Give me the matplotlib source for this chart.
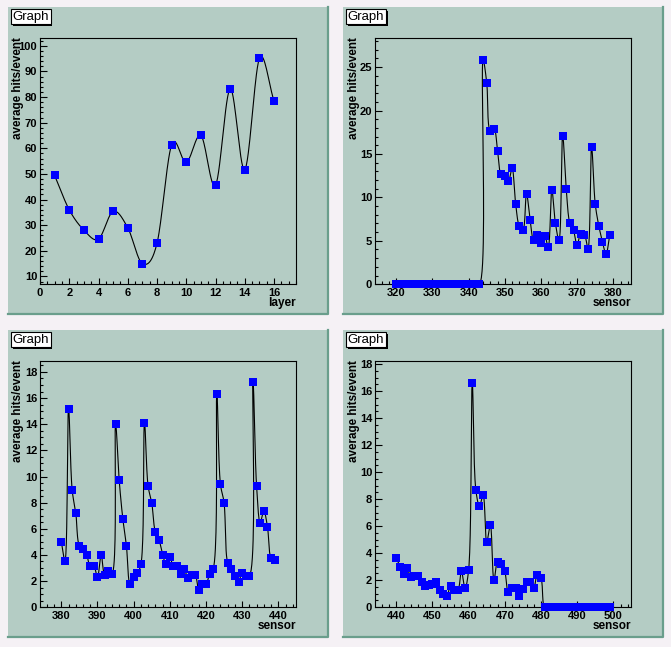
import numpy as np
import matplotlib
matplotlib.use("Agg")
import matplotlib.pyplot as plt
from matplotlib.patches import Rectangle
from matplotlib.lines import Line2D
from matplotlib.ticker import MultipleLocator, FormatStrFormatter

# ---- data ----
layers = list(range(1, 17))
layer_hits = [49.4, 36.0, 28.1, 24.6, 35.4, 29.0, 15.0, 23.0,
              61.4, 54.5, 65.0, 45.6, 83.2, 51.7, 95.1, 78.4]

sensors_a = list(range(320, 380))
hits_a = [0, 0, 0, 0, 0, 0, 0, 0, 0, 0, 0, 0,
          0, 0, 0, 0, 0, 0, 0, 0, 0, 0, 0, 0,
          25.8, 23.2, 17.7, 17.9, 15.3, 12.65, 12.5, 11.85, 13.4, 9.27,
          6.7, 6.2, 10.4, 7.4, 5.05, 5.7, 4.7, 5.6, 4.33, 10.85,
          7.0, 5.05, 17.1, 10.95, 7.0, 6.2, 4.48, 5.8, 5.7, 4.1,
          15.75, 9.27, 6.72, 4.9, 3.46, 5.62]

sensors_b = list(range(380, 440))
hits_b = [5.0, 3.55, 15.2, 8.96, 7.2, 4.7, 4.47, 4.03, 3.12, 3.12,
          2.28, 4.03, 2.49, 2.8, 2.56, 14.0, 9.72, 6.78, 4.7, 1.8,
          2.33, 2.6, 3.27, 14.1, 9.26, 8.0, 5.74, 5.18, 4.03, 3.27,
          3.86, 3.12, 3.12, 2.56, 2.92, 2.2, 2.46, 2.49, 1.32, 1.75,
          1.75, 2.56, 2.94, 16.3, 9.42, 8.0, 3.4, 2.9, 2.39, 1.93,
          2.64, 2.39, 2.39, 17.26, 9.26, 6.47, 7.36, 6.17, 3.78, 3.58]

sensors_c = list(range(440, 500))
hits_c = [3.67, 3.01, 2.45, 2.87, 2.2, 2.33, 2.33, 1.89, 1.54, 1.64,
          1.71, 1.84, 1.27, 0.98, 0.86, 1.59, 1.27, 1.27, 2.65, 1.4,
          2.77, 16.58, 8.65, 7.49, 8.28, 4.82, 6.07, 1.98, 3.31, 3.21,
          2.65, 1.1, 1.4, 1.44, 0.83, 1.32, 1.86, 1.89, 1.4, 2.42,
          2.13, 0, 0, 0, 0, 0, 0, 0, 0, 0,
          0, 0, 0, 0, 0, 0, 0, 0, 0, 0]

# ---- style ----
W, H = 671, 647
BG = "#f5f1f5"
PAD = "#b4ccc4"
BEVEL = "#6a9e8c"
FONT = "Liberation Sans"

fig = plt.figure(figsize=(W / 100, H / 100), dpi=100, facecolor=BG)


def fx(px):
    return px / W


def fy(py):
    return 1 - py / H


def smooth_func(x, y, n=30):
    # cardinal spline y(x) with central-difference slopes
    x = np.asarray(x, float)
    y = np.asarray(y, float)
    m = np.empty_like(y)
    m[1:-1] = (y[2:] - y[:-2]) / (x[2:] - x[:-2])
    m[0] = (y[1] - y[0]) / (x[1] - x[0])
    m[-1] = (y[-1] - y[-2]) / (x[-1] - x[-2])
    xs, ys = [], []
    t = np.linspace(0, 1, n)
    h00 = 2 * t**3 - 3 * t**2 + 1
    h10 = t**3 - 2 * t**2 + t
    h01 = -2 * t**3 + 3 * t**2
    h11 = t**3 - t**2
    for i in range(len(x) - 1):
        h = x[i + 1] - x[i]
        xs.append(x[i] + t * h)
        ys.append(h00 * y[i] + h10 * h * m[i] + h01 * y[i + 1] + h11 * h * m[i + 1])
    return np.concatenate(xs), np.concatenate(ys)


def smooth_pix(x, y, xlim, ylim, wpx, hpx, n=24):
    # centripetal Catmull-Rom in pixel space, keeps dense spikes tight
    sx = wpx / (xlim[1] - xlim[0])
    sy = hpx / (ylim[1] - ylim[0])
    P = np.column_stack([(np.asarray(x, float) - xlim[0]) * sx,
                         (np.asarray(y, float) - ylim[0]) * sy])
    P = np.vstack([2 * P[0] - P[1], P, 2 * P[-1] - P[-2]])
    out = []
    for i in range(1, len(P) - 2):
        p0, p1, p2, p3 = P[i - 1:i + 3]
        t0 = 0.0
        t1 = t0 + np.linalg.norm(p1 - p0) ** 0.5
        t2 = t1 + np.linalg.norm(p2 - p1) ** 0.5
        t3 = t2 + np.linalg.norm(p3 - p2) ** 0.5
        t = np.linspace(t1, t2, n)[:, None]
        a1 = (t1 - t) / (t1 - t0) * p0 + (t - t0) / (t1 - t0) * p1
        a2 = (t2 - t) / (t2 - t1) * p1 + (t - t1) / (t2 - t1) * p2
        a3 = (t3 - t) / (t3 - t2) * p2 + (t - t2) / (t3 - t2) * p3
        b1 = (t2 - t) / (t2 - t0) * a1 + (t - t0) / (t2 - t0) * a2
        b2 = (t3 - t) / (t3 - t1) * a2 + (t - t1) / (t3 - t1) * a3
        out.append((t2 - t) / (t2 - t1) * b1 + (t - t1) / (t2 - t1) * b2)
    C = np.vstack(out)
    return C[:, 0] / sx + xlim[0], C[:, 1] / sy + ylim[0]


def panel(pad, x, y, xlabel, xmaj, xmin_, ymaj, ymin_, dense):
    x0, y0, x1, y1 = pad
    pw, ph = x1 - x0, y1 - y0
    # pad background with dark bevel on the right/bottom
    fig.add_artist(Rectangle((fx(x0), fy(y1)), fx(pw), ph / H,
                             transform=fig.transFigure, facecolor=PAD,
                             edgecolor="none", zorder=-2))
    fig.add_artist(Line2D([fx(x0), fx(x1), fx(x1)], [fy(y1 - 1), fy(y1 - 1), fy(y0)],
                          transform=fig.transFigure, color=BEVEL, lw=1.6, zorder=-1))

    # ROOT-like auto range
    lo, hi = min(x), max(x)
    xr = [lo - 0.1 * (hi - lo), hi + 0.1 * (hi - lo)]
    if xr[0] < 0 <= lo:
        xr[0] = 0
    lo, hi = min(y), max(y)
    yr = [lo - 0.1 * (hi - lo), hi + 0.1 * (hi - lo)]
    if yr[0] < 0 <= lo:
        yr[0] = 0

    fl, fr = x0 + 0.1 * pw, x1 - 0.1 * pw
    ft, fb = y0 + 0.1 * ph, y1 - 0.1 * ph
    ax = fig.add_axes([fx(fl), fy(fb), fx(fr - fl), (fb - ft) / H])
    ax.set_facecolor(PAD)
    ax.set_xlim(xr)
    ax.set_ylim(yr)

    if dense:
        cx, cy = smooth_pix(x, y, xr, yr, fr - fl, fb - ft)
    else:
        cx, cy = smooth_func(x, y)
    ax.plot(cx, cy, color="black", lw=0.8, zorder=2)
    ax.plot(x, y, ls="none", marker="s", ms=5.8, mew=0, color="#0000ff",
            clip_on=False, zorder=3)

    for s in ax.spines.values():
        s.set_linewidth(0.8)
        s.set_color("black")
    ax.xaxis.set_major_locator(MultipleLocator(xmaj))
    ax.xaxis.set_minor_locator(MultipleLocator(xmin_))
    ax.yaxis.set_major_locator(MultipleLocator(ymaj))
    ax.yaxis.set_minor_locator(MultipleLocator(ymin_))
    ax.xaxis.set_major_formatter(FormatStrFormatter("%g"))
    ax.yaxis.set_major_formatter(FormatStrFormatter("%g"))
    ax.tick_params(axis="both", which="both", direction="in", top=False,
                   right=False, width=0.8, color="black")
    ax.tick_params(axis="x", which="major", length=4.3, pad=3)
    ax.tick_params(axis="x", which="minor", length=2.2)
    ax.tick_params(axis="y", which="major", length=5.0, pad=2)
    ax.tick_params(axis="y", which="minor", length=2.5)
    for t in ax.get_xticklabels() + ax.get_yticklabels():
        t.set_fontfamily(FONT)
        t.set_fontweight("bold")
        t.set_fontsize(8)

    # axis titles
    fig.text(fx(x0 + 10.5), fy(ft - 1), "average hits/event", rotation=90,
             ha="center", va="top", fontsize=8.4, fontweight="bold", family=FONT)
    fig.text(fx(fr), fy(fb + 19), xlabel, ha="right", va="center",
             fontsize=8.5, fontweight="bold", family=FONT)

    # "Graph" title box with shadow
    bx0, by0, bw, bh = x0 + 3, y0 + 2, 40, 15
    fig.add_artist(Rectangle((fx(bx0 + 1.5), fy(by0 + bh + 1.5)), fx(bw), bh / H,
                             transform=fig.transFigure, facecolor="black",
                             edgecolor="none", zorder=4))
    fig.add_artist(Rectangle((fx(bx0), fy(by0 + bh)), fx(bw), bh / H,
                             transform=fig.transFigure, facecolor="white",
                             edgecolor="black", lw=0.8, zorder=5))
    fig.text(fx(bx0 + bw / 2), fy(by0 + bh / 2 + 0.5), "Graph", ha="center",
             va="center", fontsize=9.5, family=FONT, zorder=6)
    return ax


pads = [(8, 7, 328, 315), (343, 7, 663, 315),
        (8, 330, 328, 638), (343, 330, 663, 638)]

panel(pads[0], layers, layer_hits, "layer", 2, 0.5, 10, 2, dense=False)
panel(pads[1], sensors_a, hits_a, "sensor", 10, 2, 5, 1, dense=True)
panel(pads[2], sensors_b, hits_b, "sensor", 10, 2, 2, 0.5, dense=True)
panel(pads[3], sensors_c, hits_c, "sensor", 10, 2, 2, 0.5, dense=True)

fig.savefig("out.png", dpi=100, facecolor=BG)
